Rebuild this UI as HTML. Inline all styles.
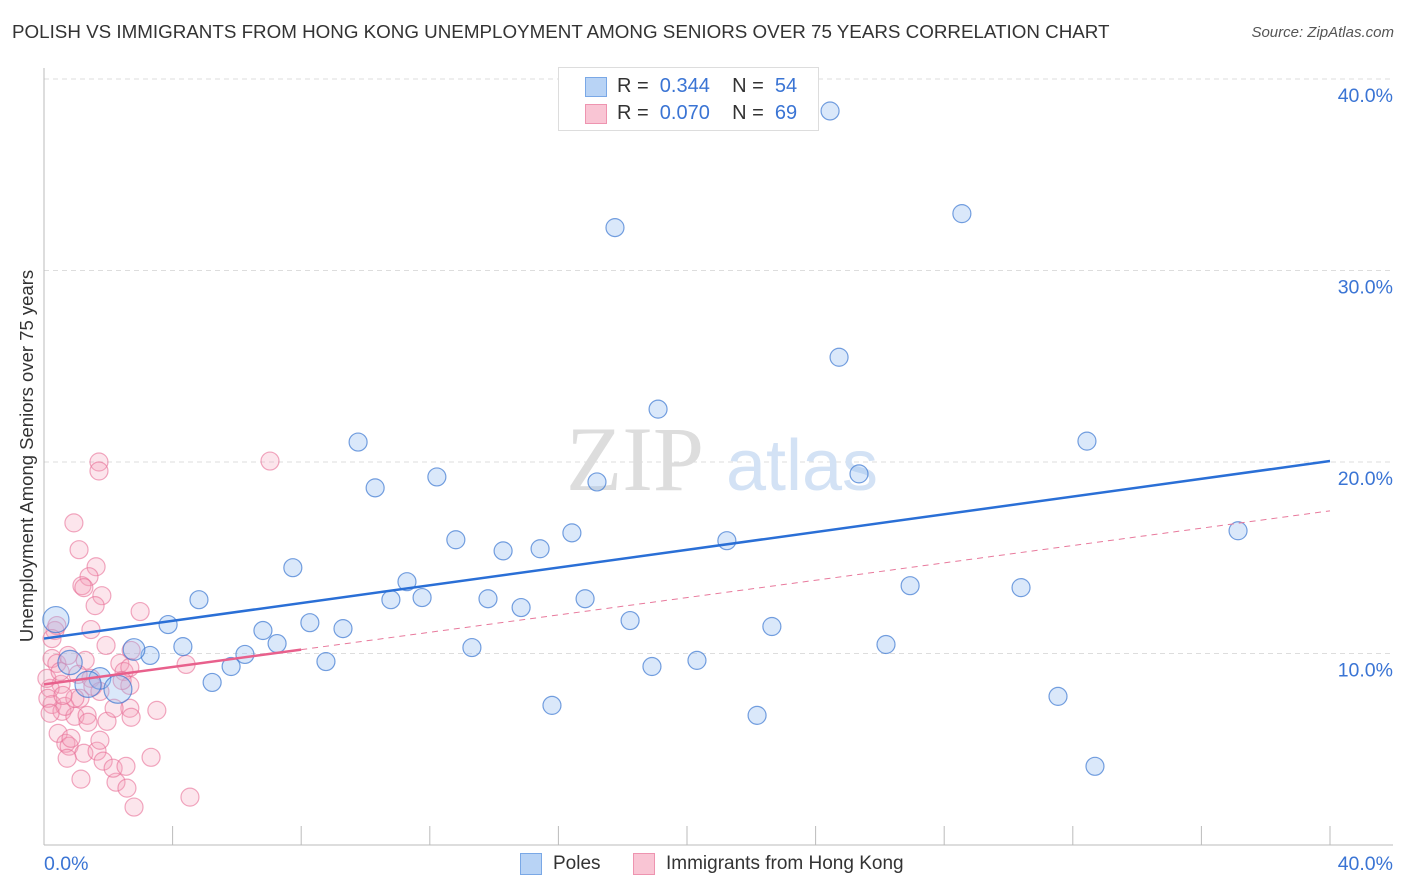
<!DOCTYPE html>
<html><head><meta charset="utf-8"><style>
body{margin:0;background:#fff;font-family:"Liberation Sans",sans-serif}
#wrap{position:relative;width:1406px;height:892px;overflow:hidden}
.t{position:absolute;white-space:nowrap}
</style></head><body><div id="wrap">
<div class="t" style="left:12px;top:21px;font-size:18.8px;color:#333">POLISH VS IMMIGRANTS FROM HONG KONG UNEMPLOYMENT AMONG SENIORS OVER 75 YEARS CORRELATION CHART</div>
<div class="t" style="right:12px;top:24px;font-size:15px;color:#555;font-style:italic">Source: ZipAtlas.com</div>
<div class="t" style="left:27px;top:456px;font-size:18.5px;color:#333;transform:translate(-50%,-50%) rotate(-90deg)">Unemployment Among Seniors over 75 years</div>
<svg id="svg" width="1406" height="892" style="position:absolute;left:0;top:0"></svg>
<div style="position:absolute;left:558px;top:67px;width:259px;height:62px;border:1px solid #ddd;background:#fff">
 <div style="position:absolute;left:26px;top:9px;width:20px;height:18px;background:#b8d3f5;border:1px solid #7aa8e6"></div>
 <div style="position:absolute;left:26px;top:36px;width:20px;height:18px;background:#f9c5d4;border:1px solid #ee94b0"></div>
 <div class="t" style="left:58px;top:7px;font-size:20px;color:#333">R = &nbsp;<span style="color:#3a74d4">0.344</span>&nbsp;&nbsp;&nbsp; N = &nbsp;<span style="color:#3a74d4">54</span></div>
 <div class="t" style="left:58px;top:34px;font-size:20px;color:#333">R = &nbsp;<span style="color:#3a74d4">0.070</span>&nbsp;&nbsp;&nbsp; N = &nbsp;<span style="color:#3a74d4">69</span></div>
</div>
<div style="position:absolute;left:520px;top:853px;height:24px">
 <div style="position:absolute;left:0;top:0;width:20px;height:20px;background:#b8d3f5;border:1px solid #7aa8e6"></div>
 <div class="t" style="left:33px;top:0;font-size:19px;color:#333">Poles</div>
 <div style="position:absolute;left:113px;top:0;width:20px;height:20px;background:#f9c5d4;border:1px solid #ee94b0"></div>
 <div class="t" style="left:146px;top:0;font-size:19px;color:#333">Immigrants from Hong Kong</div>
</div>
</div>
<script>
const xTickLabels=["0.0%","40.0%"];
const yTicks=[10,20,30,40];
const yTickLabels=["10.0%","20.0%","30.0%","40.0%"];
const polesX=[24.45,17.76,28.55,24.73,19.10,9.77,32.44,10.30,12.22,25.35,17.20,12.81,14.28,15.43,16.42,21.24,37.14,7.74,4.82,11.29,10.79,11.76,13.81,14.84,16.83,26.94,30.39,3.86,8.27,9.30,18.23,22.64,6.81,7.25,4.32,3.30,2.80,6.25,8.77,13.31,18.91,20.31,26.19,5.23,5.82,15.80,22.18,31.54,32.69,0.37,0.81,1.74,1.37,2.30];
const polesY=[38.33,32.24,32.97,25.47,22.76,21.04,21.09,18.65,19.22,19.38,18.96,15.94,15.36,15.47,16.30,15.89,16.41,14.48,12.81,13.75,12.81,12.92,12.86,12.40,12.86,13.54,13.44,11.51,11.61,11.30,11.72,11.41,11.20,10.52,10.36,9.90,10.21,9.95,9.58,10.31,9.32,9.64,10.47,8.49,9.32,7.29,6.77,7.76,4.11,11.77,9.53,8.70,8.39,8.13];
const polesW=[1,1,1,1,1,1,1,1,1,1,1,1,1,1,1,1,1,1,1,1,1,1,1,1,1,1,1,1,1,1,1,1,1,1,1,1,1.2,1,1,1,1,1,1,1,1,1,1,1,1,1.45,1.35,1.2,1.45,1.55];
const hkX=[1.71,1.71,7.03,0.93,1.09,1.62,1.40,1.18,1.24,1.80,1.59,2.99,1.46,0.34,0.40,0.25,1.93,2.71,1.28,2.36,2.49,2.67,0.25,0.40,0.75,1.46,2.67,4.42,0.53,0.19,0.25,0.12,0.56,0.44,0.68,0.78,0.96,1.12,1.34,1.37,1.24,1.52,1.96,2.43,1.74,2.67,2.71,3.51,1.65,1.84,2.24,0.84,0.72,1.15,2.15,2.55,2.58,2.80,3.33,4.54,0.65,0.19,0.09,0.50,1.06,2.18,1.74,0.96,0.59];
const hkY=[20.0,19.53,20.05,16.82,15.42,14.53,14.01,13.54,13.44,13.02,12.50,12.19,11.25,11.20,11.46,10.78,10.42,10.16,9.64,9.48,9.06,9.27,9.74,9.48,9.90,8.70,8.33,9.43,8.39,8.18,7.34,7.66,6.98,5.83,5.31,5.16,6.72,7.66,6.77,6.41,4.79,8.28,6.46,8.59,8.02,7.14,6.67,7.03,4.90,4.38,3.28,5.57,4.53,3.44,4.01,4.11,2.97,1.98,4.58,2.50,7.24,6.88,8.70,9.06,8.91,7.14,5.47,7.66,7.81];
const polesTrend=[10.78,20.05];
const hkTrend=[8.39,17.45];
const hkSolidEnd=8.0;

const NS="http://www.w3.org/2000/svg",svg=document.getElementById('svg');
const X=v=>44+v*32.15, Y=v=>845-v*19.15;
function mk(t,a){const e=document.createElementNS(NS,t);for(const k in a)e.setAttribute(k,a[k]);svg.appendChild(e);return e;}
yTicks.forEach((v,i)=>{
 const g=mk('line',{x1:44,x2:1393,y1:Y(v),y2:Y(v),stroke:'#ddd','stroke-dasharray':'5,4'});
 
 
 const t=mk('text',{x:1393,y:Y(v)+23,'text-anchor':'end','font-size':19.5,fill:'#3a74d4','font-family':'Liberation Sans'});
 t.textContent=yTickLabels[i];
 
 
});
mk('line',{x1:44,x2:44,y1:68,y2:845,stroke:'#bbb'});
mk('line',{x1:44,x2:1393,y1:845,y2:845,stroke:'#bbb'});
for(let i=1;i<=10;i++){const tk=mk('line',{x1:X(i*4),x2:X(i*4),y1:826,y2:845,stroke:'#bbb'});
 
 }
[[44,'start',0],[1393,'end',1]].forEach(([x,a,i])=>{const t=mk('text',{x:x,y:870,'text-anchor':a,'font-size':19.5,fill:'#3a74d4','font-family':'Liberation Sans'});t.textContent=xTickLabels[i];
 
 });
const w1=mk('text',{x:635,y:490,'text-anchor':'middle','font-size':92,fill:'#ddd','font-family':'Liberation Serif'});w1.textContent='ZIP';


const w2=mk('text',{x:802,y:490,'text-anchor':'middle','font-size':72,fill:'#d3e2f5','font-family':'Liberation Sans'});w2.textContent='atlas';


hkX.forEach((x,i)=>{const c=mk('circle',{cx:X(x),cy:Y(hkY[i]),r:9,fill:'rgba(245,160,185,0.28)',stroke:'rgba(232,110,150,0.6)','stroke-width':1.2});
 
 });
polesX.forEach((x,i)=>{const c=mk('circle',{cx:X(x),cy:Y(polesY[i]),r:9*polesW[i],fill:'rgba(150,190,240,0.35)',stroke:'rgba(60,120,210,0.7)','stroke-width':1.2});
 
 });
const hkAt=v=>hkTrend[0]+(hkTrend[1]-hkTrend[0])*v/40;
const pd=mk('line',{x1:X(hkSolidEnd),y1:Y(hkAt(hkSolidEnd)),x2:X(40),y2:Y(hkTrend[1]),stroke:'#e8799c','stroke-width':1,'stroke-dasharray':'6,5'});


const ps=mk('line',{x1:X(0),y1:Y(hkTrend[0]),x2:X(hkSolidEnd),y2:Y(hkAt(hkSolidEnd)),stroke:'#e8608c','stroke-width':2.5});


const bl=mk('line',{x1:X(0),y1:Y(polesTrend[0]),x2:X(40),y2:Y(polesTrend[1]),stroke:'#2a6fd6','stroke-width':2.5});


</script></body></html>
